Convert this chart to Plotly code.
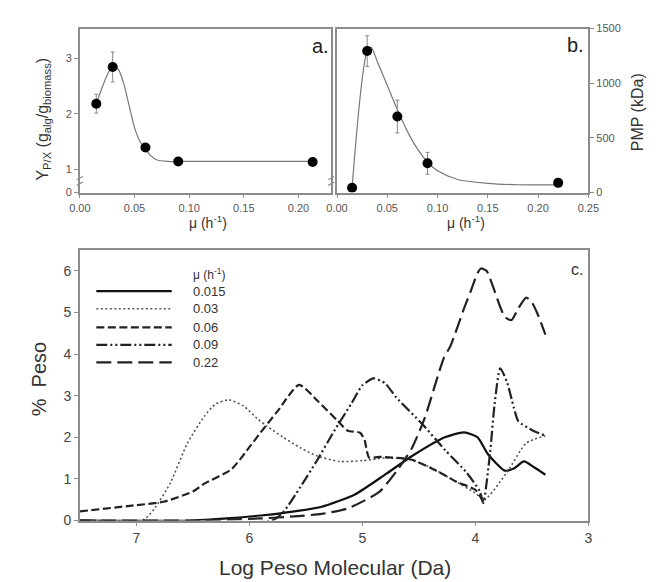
import plotly.graph_objects as go

# ---------------- Panel a data ----------------
a_mu = [0.015, 0.03, 0.06, 0.09, 0.213]
a_yield = [2.18, 2.84, 1.39, 1.14, 1.13]
a_err = [0.17, 0.27, 0.0, 0.0, 0.0]
a_fit_mu = [0.015, 0.03, 0.035, 0.04, 0.045, 0.05, 0.055, 0.06, 0.065, 0.07, 0.08, 0.09, 0.15, 0.213]
a_fit_y = [2.18, 2.85, 2.8, 2.55, 2.15, 1.75, 1.5, 1.36, 1.24, 1.17, 1.14, 1.14, 1.14, 1.14]

# ---------------- Panel b data ----------------
b_mu = [0.015, 0.03, 0.06, 0.09, 0.22]
b_pmp = [45, 1295, 696, 268, 89]
b_err = [0, 140, 150, 100, 0]
b_fit_mu = [0.015, 0.03, 0.034, 0.04, 0.05, 0.06, 0.07, 0.08, 0.09, 0.10, 0.12, 0.15, 0.18, 0.22]
b_fit_y = [45, 1295, 1330, 1200, 980, 760, 560, 400, 280, 200, 120, 85, 72, 70]

# ---------------- Panel c data ----------------
c_labels = ["0.015", "0.03", "0.06", "0.09", "0.22"]
c015_x = [7.5, 6.5, 6.2, 5.9, 5.6, 5.36, 5.07, 4.79, 4.56, 4.27, 4.1, 3.98, 3.89, 3.74, 3.66, 3.57, 3.48, 3.38]
c015_y = [0.0, 0.0, 0.05, 0.12, 0.22, 0.33, 0.62, 1.12, 1.55, 2.0, 2.12, 2.0, 1.6, 1.2, 1.25, 1.42, 1.28, 1.1]
c03_x = [7.5, 6.95, 6.85, 6.7, 6.55, 6.4, 6.3, 6.18, 6.05, 5.93, 5.85, 5.7, 5.55, 5.4, 5.2, 5.0, 4.8, 4.6, 4.4, 4.2, 4.0, 3.92, 3.72, 3.55, 3.38]
c03_y = [0.0, 0.0, 0.25, 0.9, 1.85, 2.5, 2.8, 2.9, 2.75, 2.45, 2.28, 2.0, 1.75, 1.55, 1.42, 1.44, 1.5, 1.48, 1.28, 0.98, 0.66, 0.5, 1.16, 1.86, 2.04]
c06_x = [7.5, 7.0, 6.76, 6.5, 6.39, 6.16, 5.99, 5.9, 5.75, 5.56, 5.39, 5.22, 5.13, 5.02, 4.98, 4.94, 4.85, 4.56, 4.27, 4.16, 4.0, 3.93]
c06_y = [0.22, 0.37, 0.45, 0.7, 0.9, 1.23, 1.8, 2.12, 2.63, 3.26, 2.86, 2.4, 2.16, 2.11, 1.93, 1.51, 1.53, 1.46, 1.09, 0.92, 0.74, 0.45]
c09_x = [7.5, 5.8, 5.7, 5.55, 5.4, 5.25, 5.1, 5.0, 4.9, 4.8, 4.7, 4.47, 4.27, 4.08, 3.96, 3.93, 3.87, 3.83, 3.78, 3.72, 3.66, 3.62, 3.49, 3.38]
c09_y = [0.0, 0.0, 0.2, 0.8, 1.45, 2.15, 2.8, 3.25, 3.42, 3.3, 2.96, 2.32, 1.7, 1.16, 0.7, 0.42, 1.62, 2.79, 3.66, 3.33, 2.72, 2.39, 2.16, 2.04]
c22_x = [7.5, 6.5, 6.2, 5.9, 5.6, 5.36, 5.13, 4.85, 4.68, 4.56, 4.45, 4.28, 4.22, 4.1, 4.04, 3.98, 3.95, 3.9, 3.85, 3.74, 3.68, 3.62, 3.55, 3.5, 3.45, 3.38]
c22_y = [0.0, 0.0, 0.02, 0.05, 0.1, 0.16, 0.29, 0.69, 1.25, 1.75, 2.45, 3.9, 4.2, 5.1, 5.52, 5.95, 6.06, 6.0, 5.67, 4.9, 4.82, 5.1, 5.36, 5.25, 4.97, 4.47]

c_series = [(c015_x, c015_y), (c03_x, c03_y), (c06_x, c06_y), (c09_x, c09_y), (c22_x, c22_y)]

# ---------------- styles ----------------
FONT = "Arial, Liberation Sans, sans-serif"
FRAME = "#8c8c8c"
TXT = "#333333"
styles = [
    dict(dash="solid", width=2.2, color="#111111"),
    dict(dash="2px,2.5px", width=1.6, color="#555555"),
    dict(dash="8px,3.5px", width=2.2, color="#222222"),
    dict(dash="11px,3px,2px,3px,2px,3px", width=2.2, color="#222222"),
    dict(dash="15px,6px", width=2.2, color="#222222"),
]

fig = go.Figure()

# panel a
fig.add_trace(go.Scatter(x=a_fit_mu, y=a_fit_y, mode="lines", line=dict(color="#777777", width=1.2, shape="spline", smoothing=0.8),
                         xaxis="x", yaxis="y", showlegend=False, hoverinfo="skip"))
fig.add_trace(go.Scatter(x=a_mu, y=a_yield, mode="markers",
                         marker=dict(color="#000000", size=10),
                         error_y=dict(type="data", array=a_err, color="#888888", thickness=1, width=2),
                         xaxis="x", yaxis="y", showlegend=False))
# panel b
fig.add_trace(go.Scatter(x=b_fit_mu, y=b_fit_y, mode="lines", line=dict(color="#777777", width=1.2, shape="spline", smoothing=0.8),
                         xaxis="x2", yaxis="y2", showlegend=False, hoverinfo="skip"))
fig.add_trace(go.Scatter(x=b_mu, y=b_pmp, mode="markers",
                         marker=dict(color="#000000", size=10),
                         error_y=dict(type="data", array=b_err, color="#888888", thickness=1, width=2),
                         xaxis="x2", yaxis="y2", showlegend=False))
# panel c
for (xs, ys), st, lab in zip(c_series, styles, c_labels):
    fig.add_trace(go.Scatter(x=xs, y=ys, mode="lines", name=lab,
                             line=dict(color=st["color"], width=st["width"], dash=st["dash"], shape="spline", smoothing=0.6),
                             xaxis="x3", yaxis="y3", showlegend=False))

W, H = 659, 582
def px(x):
    return x / W
def py(y):
    return 1 - y / H

axis_common = dict(showgrid=False, zeroline=False, showline=True, mirror=True, linecolor=FRAME, linewidth=1.5,
                   ticks="outside", ticklen=4, tickcolor=FRAME, tickfont=dict(family=FONT, size=11, color="#555555"))
big_ticks = {**axis_common, "tickfont": dict(family=FONT, size=14, color="#444444")}

fig.update_layout(
    width=W, height=H, autosize=False,
    margin=dict(l=0, r=0, t=0, b=0),
    paper_bgcolor="white", plot_bgcolor="white",
    font=dict(family=FONT, color=TXT),
    showlegend=False,
    xaxis=dict(domain=[px(63), px(323)], range=[0, 0.23], anchor="y",
               tickvals=[0, 0.05, 0.10, 0.15, 0.20], ticktext=["0.00", "0.05", "0.10", "0.15", "0.20"], **axis_common),
    yaxis=dict(domain=[py(183), py(15)], range=[0.58, 3.53], anchor="x",
               tickvals=[0.58, 1, 2, 3], ticktext=["0", "1", "2", "3"], **axis_common),
    xaxis2=dict(domain=[px(329), px(589)], range=[0, 0.25], anchor="y2",
                tickvals=[0, 0.05, 0.10, 0.15, 0.20, 0.25], ticktext=["0.00", "0.05", "0.10", "0.15", "0.20", "0.25"], **axis_common),
    yaxis2=dict(domain=[py(183), py(15)], range=[0, 1500], anchor="x2", side="right",
                tickvals=[0, 500, 1000, 1500], **axis_common),
    xaxis3=dict(domain=[px(63), px(589)], range=[7.5, 3], anchor="y3",
                tickvals=[7, 6, 5, 4, 3], **big_ticks),
    yaxis3=dict(domain=[py(519), py(242)], range=[0, 6.5], anchor="x3",
                tickvals=[0, 1, 2, 3, 4, 5, 6], **big_ticks),
)

ann = []
def A(text, x, y, size, angle=0, xanchor="center", yanchor="middle", color=TXT):
    ann.append(dict(text=text, x=px(x), y=py(y), xref="paper", yref="paper", showarrow=False,
                    font=dict(family=FONT, size=size, color=color), textangle=angle,
                    xanchor=xanchor, yanchor=yanchor))

A("a.", 312, 33, 20, color="#222222")
A("b.", 576, 32, 20, color="#222222")
A("c.", 577, 262, 16, color="#333333")
A("μ (h<sup>-1</sup>)", 196, 213, 14)
A("μ (h<sup>-1</sup>)", 462, 213, 14)
A("Y<sub>P/X</sub> (g<sub>alg</sub>/g<sub>biomass</sub>)", 25, 108, 16, angle=-90)
A("PMP (kDa)", 640, 101, 16, angle=-90)
A("Log Peso Molecular (Da)", 327, 567, 21)
A("%  Peso", 21, 374, 20, angle=-90)

# legend (manual, inside panel c)
A("μ (h<sup>-1</sup>)", 178, 266, 12, xanchor="left")
leg_y = [284, 302, 321, 339, 357]
shapes = []
for st, lab, ly in zip(styles, c_labels, leg_y):
    shapes.append(dict(type="line", xref="paper", yref="paper", x0=px(80), x1=px(158), y0=py(ly), y1=py(ly),
                       line=dict(color=st["color"], width=st["width"], dash=st["dash"])))
    A(lab, 178, ly, 13, xanchor="left")

# axis break marks on panel a
for xd in (0, 1):
    for yv in (0.74, 0.84):
        shapes.append(dict(type="line", xref="x domain", yref="y", x0=xd - 0.012, x1=xd + 0.012,
                           y0=yv - 0.03, y1=yv + 0.03, line=dict(color=FRAME, width=1.2)))

fig.update_layout(annotations=ann, shapes=shapes)
fig.write_html("out.html")
